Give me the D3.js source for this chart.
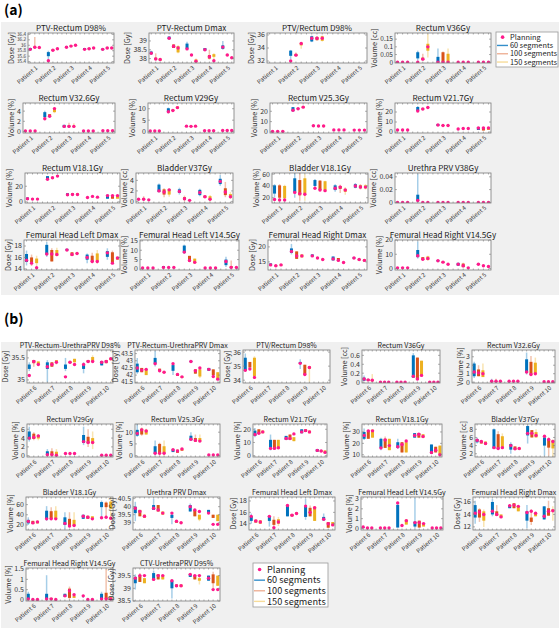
<!DOCTYPE html>
<html><head><meta charset="utf-8">
<script src="https://cdnjs.cloudflare.com/ajax/libs/d3/7.8.5/d3.min.js"></script>
<style>body{margin:0;background:#fff}svg{display:block}</style>
</head><body><svg id="c" width="560" height="631"></svg>
<script>
// ---------- data ----------
const seriesNames = ["60 segments", "100 segments", "150 segments"];
const seriesColors = ["#0072BD", "#D95319", "#EDB120"];
const planColor = "#FF1A8C";
const patientsA = ["Patient 1", "Patient 2", "Patient 3", "Patient 4", "Patient 5"];
const patientsB = ["Patient 6", "Patient 7", "Patient 8", "Patient 9", "Patient 10"];

// bar: number = all equal; [q1,q3,plan]; [wlo,q1,q3,whi,plan]; null = no data
const titlesA = ["PTV-Rectum D98%", "PTV-Rectum Dmax", "PTV/Rectum D98%", "Rectum V36Gy",
  "Rectum V32.6Gy", "Rectum V29Gy", "Rectum V25.3Gy", "Rectum V21.7Gy",
  "Rectum V18.1Gy", "Bladder V37Gy", "Bladder V18.1Gy", "Urethra PRV V38Gy",
  "Femural Head Left Dmax", "Femural Head Left V14.5Gy", "Femural Head Right Dmax", "Femural Head Right V14.5Gy"];
const ylabA = ["Dose [Gy]", "Dose [Gy]", "Dose [Gy]", "Volume [cc]", "Volume [%]", "Volume [%]", "Volume [%]", "Volume [%]",
  "Volume [%]", "Volume [cc]", "Volume [%]", "Volume [cc]", "Dose [Gy]", "Volume [%]", "Dose [Gy]", "Volume [%]"];
const domA = [[35.35, 36.45], [37.75, 39.45], [31.7, 36.3], [-0.005, 0.19], [-0.3, 5.6], [-0.6, 12.5], [-1, 28], [-1, 29],
  [-1.5, 37], [-0.3, 5.4], [11, 62], [-0.001, 0.046], [13.8, 19.05], [-0.6, 15.5], [12.3, 22.3], [-1, 20]];
const ticksA = [[35.4, 35.6, 35.8, 36, 36.2, 36.4], [38, 38.5, 39], [32, 34, 36], [0, 0.05, 0.1, 0.15],
  [0, 2, 4], [0, 5, 10], [0, 10, 20], [0, 10, 20], [0, 20], [0, 2, 4], [20, 40, 60], [0, 0.02, 0.04],
  [14, 16, 18], [0, 5, 10, 15], [15, 20], [0, 10, 20]];

const a01 = [[35.8,35.82,35.9,35.92,35.85],[35.88,35.9,35.95,36.3,35.93],[35.89,35.93,35.92],
  [35.45,35.6,35.75,35.8,35.43],[35.8,35.85,35.82],[35.85,35.89,35.87],
  [35.9,35.97,35.93],[35.95,35.99,35.97],[35.98,36.02,36.0],
  [35.83,35.9,35.85],[35.85,35.9,35.87],[35.88,35.92,35.9],
  [35.82,35.88,35.85],[35.88,35.92,35.9],[35.88,35.92,35.9]];
const a02 = [[38.2,38.25,38.4,38.45,38.3],[37.95,37.95,38.05,38.3,37.98],[37.88,38.0,37.95],
  [39.1,39.25,39.15],[38.6,38.8,38.7],[38.3,38.35,38.7,38.75,38.6],
  [38.5,38.55,38.85,38.95,38.55],[38.18,38.25,38.2],[37.78,37.8,37.95,38.0,37.85],
  [38.45,38.6,38.5],[37.95,38.0,38.2,38.5,38.1],[37.9,38.1,38.25,38.3,37.88],
  [38.5,38.55,38.75,39.0,38.65],[38.18,38.22,38.2],[38.03,38.08,38.05]];
const a03 = [null,null,null,
  [32.3,32.8,33.6,33.7,32.0],[32.7,32.8,33.1,33.3,32.9],[33.9,34.4,34.8,34.9,34.7],
  [34.9,35.0,35.8,35.9,35.5],[35.1,35.2,35.7,35.8,35.5],[35.0,35.1,35.8,35.9,35.5],
  null,null,null, null,null,null];
const a04 = [0,0,0,
  [0.01,0.025,0.065,0.075,0],[0.01,0.015,0.03,0.055,0.02],[0.03,0.075,0.12,0.185,0.1],
  [0,0,0.035,0.09,0],[0,0,0.065,0.07,0],[0,0,0.055,0.09,0],
  0,0,0, 0,0,0];
const a05 = [0.1,0.1,0.1,
  [2.5,2.8,3.8,4.1,2.5],[2.9,3.4,3.0],[3.6,3.8,4.6,4.8,4.5],
  [0.8,1.3,1.0],[0.8,0.9,1.2,1.7,1.0],[0.8,0.9,1.1,1.6,1.0],
  0.1,0.1,0.1, 0.15,0.15,0.15];
const a06 = [0.3,0.3,0.3,
  [8,8.5,10.2,10.5,8.7],[9,9.6,9.2],[10,11,10.5],
  [2.2,2.6,2.4],[2.1,2.5,2.3],[2.2,2.6,2.4],
  0.4,0.4,0.4, 0.5,0.5,0.5];
const a07 = [0.6,0.6,0.6,
  [20,24,21],[22,23,22.5],[23.5,25,24],
  [5.5,6.5,6],[5.3,6.3,5.8],[5.3,6.3,5.8],
  2,2,2, 1.8,1.8,1.8];
const a08 = [2,2,2,
  [20,21,25,26,21],[22.5,23.5,23],[24,25,24.5],
  [6,8,7],[6,7,6.5],[6,7,6.5],
  3,3.5,3.5,
  [2,5,4],[1.5,4.5,4],[2,4.5,4]];
const a09 = [[2.5,5.5,4],[3,4,3.5],[3,4,3.5],
  [29,33,29],[30,32,31],[32,34,33],
  [8,11,9],[9,11,9.5],[8.5,11,9.5],
  5.5,7,6,
  [4,9,8],[4,8.5,8],[4,8.5,8]];
const a10 = [0.4,[0.3,0.3,0.6,1.0,0.4],0.3,
  [1.7,1.8,3.2,3.4,2],[0.8,1.3,2.3,2.5,1.8],[0.9,1.3,2.3,2.5,2.2],
  [1.3,1.6,2.3,2.6,1.9],[0,0.3,0.8,1.1,0.5],0.2,
  [1.0,1.2,2.2,2.4,1.7],[0.7,1.1,0.9],[0,0.3,1.0,1.2,0.4],
  [3.0,3.3,4.3,5.0,3.8],[0.8,1.2,2.5,3.7,1.8],[0.5,0.7,1.4,1.8,0.9]];
const a11 = [[20,27,41,43,17],[15,20,41,43,16],[15,19,40,42,16],
  [20,29,53,62,29],[15,24,50,62,27],[15,27,53,60,26],
  [38,40,50,52,36],[32,33,49,50,33],[31,32,48,49,32],
  [30,33,41,43,36],[28,35,40,42,38],[25,30,35,38,33],
  [36,37,43,45,40],[34,36,41,43,38],[34,36,41,43,38]];
const a12 = [0,0,0,
  [0,0.002,0.012,0.045,0.003],0,0,
  0,0,0, 0,0,0, 0,0,0];
const a13 = [[14.6,15.2,16.6,17.2,15.5],[14.5,15.1,16.0,16.5,15.0],[14.5,15.0,15.8,16.3,14.2],
  [16.1,16.5,18.2,18.7,16.6],[15.3,15.3,17.3,17.6,16.6],[16.2,16.3,17.3,17.7,16.5],
  [17.2,17.5,17.3],[16.3,16.9,16.5],[16.6,16.8,16.7],
  [15,15.6,16.5,16.7,16.0],[15,15.2,16.3,16.8,15.3],[14.9,15.3,16.7,17.3,15.3],
  [15.6,16.1,17.1,17.6,16.8],[14.9,14.9,16.9,17.2,15.0],[15.6,16.1,15.9]];
const a14 = [0.5,0.5,0.5,
  [0.8,1.5,0.8],0.8,0.8,
  [8,8.5,12.5,13,9],[4,7,4.5],[3,5.5,3.5],
  0.5,0.5,0.5,
  [1,2,5,6.5,4],[0.5,0.5,1.5,4.5,0.8],[0.5,0.8,0.8]];
const a15 = [[13.8,14.5,14],[13.5,13.9,13.7],[13.8,14.2,14],
  [17.5,18,19.5,21,18.5],[16,18.5,17],[16.5,17.5,17],
  [16.8,17.5,17],[16.2,16.6,16.3],[15.6,16,15.8],
  [15.5,16.8,16],[15.3,16.3,15.5],[14.6,15,14.8],
  [16.1,16.5,16.3],[15.5,16,15.8],[15.2,15.9,15.5]];
const a16 = [0.5,0.5,0.5,
  [7,8,13,19,9],[6,8,6.5],[5.5,6,8.5,9,7],
  [5,6,5.5],[4,5,4.5],3,
  [2,4,3],[1,1,3.5,4,2],0.5,
  [2.5,3.5,3],2,1.5];
const dataA = [a01,a02,a03,a04,a05,a06,a07,a08,a09,a10,a11,a12,a13,a14,a15,a16];

const titlesB = ["PTV-Rectum-UrethraPRV D98%", "PTV-Rectum-UrethraPRV Dmax", "PTV/Rectum D98%", "Rectum V36Gy", "Rectum V32.6Gy",
  "Rectum V29Gy", "Rectum V25.3Gy", "Rectum V21.7Gy", "Rectum V18.1Gy", "Bladder V37Gy",
  "Bladder V18.1Gy", "Urethra PRV Dmax", "Femural Head Left Dmax", "Femural Head Left V14.5Gy", "Femural Head Right Dmax",
  "Femural Head Right V14.5Gy", "CTV-UrethraPRV D95%"];
const ylabB = ["Dose [Gy]", "Dose [Gy]", "Dose [Gy]", "Volume [cc]", "Volume [%]",
  "Volume [%]", "Volume [%]", "Volume [%]", "Volume [%]", "Volume [cc]",
  "Volume [%]", "Dose [Gy]", "Dose [Gy]", "Volume [%]", "Dose [Gy]", "Volume [%]", "Dose [Gy]"];
const domB = [[34.93, 35.68], [41.45, 43.75], [33.8, 36.15], [-0.02, 0.72], [-0.1, 3.8],
  [-0.3, 7.2], [-0.6, 13.5], [-1, 24], [8, 37], [1.2, 9.3],
  [10, 75], [38.55, 40.6], [12.9, 18.7], [-0.15, 3.2], [11.5, 16.8], [-0.05, 1.55], [38.5, 39.8]];
const ticksB = [[35, 35.5], [41.5, 42, 42.5, 43, 43.5], [34, 35, 36], [0, 0.2, 0.4, 0.6], [0, 1, 2, 3],
  [0, 2, 4, 6], [0, 5, 10], [0, 10, 20], [10, 20, 30], [2, 4, 6, 8],
  [20, 40, 60], [39, 39.5, 40, 40.5], [14, 16, 18], [0, 1, 2, 3], [12, 14, 16], [0, 0.5, 1, 1.5], [38.5, 39, 39.5]];

const b01 = [[35.2,35.25,35.35,35.4,35.1],[35.3,35.38,35.45,35.45,35.42],[35.35,35.42,35.35],
  [34.95,35.25,35.4,35.45,35.3],[35.3,35.4,35.35],[35.35,35.4,35.45,35.45,35.4],
  [35.2,35.25,35.35,35.5,35.07],[35.38,35.42,35.4],[35.4,35.48,35.35],
  [35.15,35.25,35.35,35.4,35.35],[35.4,35.45,35.42],[35.4,35.42,35.52,35.56,35.42],
  [35.33,35.43,35.4],[35.38,35.45,35.42],[35.45,35.5,35.48]];
const b02 = [[42.1,42.2,42.8,43.2,42.5],[42.2,42.5,42.35],[42.0,42.4,42.4],
  [42.6,42.8,43.2,43.7,42.8],[42.3,42.45,42.3],[42.15,42.25,42.2],
  [42.0,42.3,42.7,42.85,42.8],[41.95,42.1,42.05],[41.8,41.9,41.88],
  [42.9,43.0,42.95],[42.1,42.4,42.3],[41.8,41.9,42.4,42.5,42.5],
  [42.3,42.5,42.4],[42.0,42.4,41.9],[41.7,42.2,41.72]];
const b03 = [[34.6,34.7,35.6,35.9,34.7],[34.9,35.3,34.8],[34.2,34.3,35.6,35.7,34.2],
  null,null,null, null,null,null,
  [34.8,35.2,35.3,35.5,35.2],[34.4,35.1,34.4],[33.9,34.8,35.0,35.0,34.9],
  null,null,null];
const b04 = [[0.03,0.03,0.1,0.15,0.07],[0.03,0.07,0.05],[0.02,0.02,0.06,0.18,0.04],
  0,0,0, 0,0,0,
  [0.1,0.1,0.6,0.65,0.13],[0.05,0.55,0.07],[0.15,0.48,0.15],
  0,0,0];
const b05 = [[0.5,0.7,2.2,2.4,1.2],[0.7,0.7,1.5,2.0,1.1],[0.6,0.6,1.4,2.2,1.0],
  [0,0.05,0.2,0.4,0.1],[0,0.05,0.15,0.4,0.1],0.1,
  0.1,0.1,0.1,
  [0.9,1.1,2.7,3.5,1.2],[0.9,0.9,2.4,3.1,0.9],[1.0,1.0,2.3,2.9,1.0],
  0.05,0.05,0.05];
const b06 = [[3.2,3.7,5.5,6.6,4.0],[3.5,3.8,5.0,5.3,4.2],[3.5,3.9,4.7,4.9,4.5],
  [0,0.2,1.0,1.5,0.2],[0,0.1,1.0,1.7,0.2],[0,0.2,0.9,1.5,0.1],
  0.5,0.5,0.5,
  [2.4,2.9,4.7,6.6,3.2],[2.0,2.8,4.3,6.0,3.0],[1.5,2.8,4.0,5.5,3.0],
  0.1,0.1,0.1];
const b07 = [[8,8.5,11,13.5,9.5],[8.5,9,11.5,12,11],[9,9,11,11.5,10.5],
  [0,1,4,6.5,1],[0,1,5,5.5,1],[0,1,4,6.5,1],
  [1.5,2.7,2.5],[1.2,2.5,2.0],[2,3,2.8],
  [6.5,6.5,8.5,10,7],[6,6,7.5,9,6.5],[6,6,7.5,9,6.2],
  0.3,0.3,0.3];
const b08 = [[14,15,19,21,16],[17,20,17],[17,19,18],
  [4,6,12,16,5.5],[5,12,5.5],[5,12,6],
  [12,15,13],[12,16,13],[11,14,16.5],
  [17,20,18],[18,20,19],[17,19,18],
  [3,5,4],[3,4,3.5],[2,4,2.5]];
const b09 = [[23,24,30,33,27],[24,31,31],[25,32,31],
  [14,16,24,25,16],[16,16,24,26,23],[14,24,18],
  [15,16,21,24,17],[12,21,19],[12,21,22],
  [25,29,27],[25,29,28],[25,28,26],
  [11,19,12],[12,17,14],[10,18,10]];
const b10 = [[4.5,4.8,5.6,6,5.3],[4.5,5.2,5.0],[4.2,5,4.5],
  [3.3,3.3,8.0,8.2,3.5],[3.2,3.2,6.8,7.5,3.3],[3.5,3.5,6.3,7.0,3.5],
  [2,3,4.4,4.8,4],[3,3.8,3.2],[3,3.5,3.3],
  [4.5,6.5,8.8,9,7],[6,7.8,7.0],[6,6,7.3,8,6.5],
  [1.5,4,6,6.5,6.3],[1.5,3.5,5.5,6,5.5],[1.2,3.3,5.3,5.5,5.0]];
const b11 = [[20,23,30,35,27],[22,28,24],[23,28,26],
  [28,32,48,57,32],[32,32,47,55,32],[32,32,48,57,32],
  [12,20,35,45,23],[15,18,32,45,18],[18,18,30,45,19],
  [32,40,37],[32,38,35],[32,37,32],
  [35,55,65,68,34],[35,55,64,66,35],[33,52,66,75,33]];
const b12 = [[39.1,39.6,40.0,40.3,39.9],[39.4,39.8,39.7],[39.3,39.5,39.4],
  [39.8,39.8,40.1,40.5,39.9],[39.7,40.1,39.8],[39.5,39.7,39.6],
  [38.9,39.3,39.5,39.6,39.6],[39.0,39.1,39.1],[38.97,39.03,39.0],
  [39.7,39.7,40.1,40.2,40.0],[39.4,39.8,39.8],[39.1,39.2,39.5,39.5,39.7],
  [39.6,39.8,39.6],[39.3,39.5,38.9],[39.1,39.5,38.9]];
const b13 = [[14,14.5,15.3,15.8,15.3],[14.2,14.7,14.5],[14,14.6,14.3],
  [13.5,14.5,15.3,15.5,15.3],[13.5,13.8,14.7,15.3,13.3],[13.6,14,14.8,15.2,14.3],
  [15.3,17.2,17.2],[15.3,15.7,15.5],[15.7,16,15.8],
  [14.7,15.2,17,18.4,17.1],[15.3,15.3,16.8,17.2,16],[14.5,17,16.8],
  [14.6,14.6,15.2,15.8,14.8],[13.3,14.3,14],[13.7,14.3,13.8]];
const b14 = [[0.05,0.15,0.15],0.05,0.05,
  0.05,0.05,0.05,
  [0.1,0.1,2.4,2.7,2.6],0.3,[0.4,0.9,0.8],
  [0,0.2,0.7,3.1,0.6],[0.1,0.8,0.6],[0.2,0.5,0.5],
  0.05,0.05,0.05];
const b15 = [[12.5,13.5,15.5,16.2,14.2],[12.8,13.5,14.8,15,14.4],[12,13,14.5,14.8,14.0],
  [13.7,14,16,16.5,14.5],[13.8,13.8,14.5,15.5,14.0],[13.5,14,13.6],
  [15,15.5,15.4],[15,15.8,15.5],[14.5,15.3,15.3],
  [11.8,13,14.5,15.5,14.3],[12.3,12.8,13.5,14.8,14.5],[13.7,14.2,14.2],
  [13.2,15.3,13.7],[13.8,13.8,15.0,16.2,14.5],[13,14.5,14.8,15.3,14.6]];
const b16 = [[0,0.05,0.3,0.4,0.05],0.02,0.02,
  [0,0.05,0.3,1.2,0.05],[0.02,0.1,0.05],0.02,
  [0.15,0.3,0.2],[0,0.1,0.55,0.65,0.45],[0.1,0.2,0.25],
  [0.1,0.2,0.2,0.25,0.2],0.02,0.02,
  [0,0.05,0.3,0.4,0.05],[0,0.05,0.35,1.5,0.05],[0,0,0.15,0.15,0.05]];
const b17 = [[38.95,39.2,39.45,39.55,39.4],[39.25,39.25,39.5,39.6,39.5],[39.2,39.4,39.5],
  [39.3,39.35,39.6,39.7,39.35],[39.35,39.55,39.5],[39.35,39.5,39.5],
  [38.6,39.0,39.3,39.35,39.3],[39.05,39.15,39.1],[39.05,39.15,39.1],
  [39.45,39.55,39.55],[39.35,39.5,39.5],[39.15,39.3,39.4,39.55,39.5],
  [39.3,39.5,39.4],[39.0,39.2,39.55,39.65,38.95],[39.1,39.5,38.95]];
const dataB = [b01,b02,b03,b04,b05,b06,b07,b08,b09,b10,b11,b12,b13,b14,b15,b16,b17];

// ---------- layout ----------
const framesA = [[28,114],[149,234],[267,367],[395,491],
  [23,115],[148,234],[270,367],[395,491],
  [25,120],[136,233],[272,368],[395,491],
  [24,120],[140,239],[268,367],[395,491]];
const topsA = [33,103,173,240], hA = 30;
const framesB = [[27,113],[135,220],[243,330],[362,440],[472,555],
  [27,113],[135,220],[253,327],[362,442],[475,555],
  [26,113],[133,220],[249,335],[361,443],[473,555],
  [26,113],[133,220]];
const topsB = [350,424,497,568], hB = 33;

const FONT = "'Noto Sans CJK JP','Noto Sans',sans-serif";
const svg = d3.select("#c");
const defs = svg.append("defs");

svg.append("rect").attr("x",1).attr("y",22).attr("width",558).attr("height",273).attr("fill","#f0f0f0");
svg.append("rect").attr("x",1).attr("y",342).attr("width",558).attr("height",286).attr("fill","#f0f0f0");
svg.append("text").attr("x",4).attr("y",15).attr("font-family",FONT).attr("font-weight","bold").attr("font-size",14).text("(a)");
svg.append("text").attr("x",4).attr("y",324).attr("font-family",FONT).attr("font-weight","bold").attr("font-size",14).text("(b)");

function norm(d) {
  if (d === null || d === undefined) return null;
  if (typeof d === "number") return [d,d,d,d,d];
  if (d.length === 3) return [d[0],d[0],d[1],d[1],d[2]];
  return d;
}

let clipId = 0;
function drawPanel(fr, top, h, title, ylab, dom, ticks, data, pats, titleFs) {
  const x0 = fr[0], x1 = fr[1], y0 = top, y1 = top + h;
  const x = d3.scaleLinear().domain([0.5, 19.5]).range([x0, x1]);
  const y = d3.scaleLinear().domain(dom).range([y1, y0]);
  const g = svg.append("g");
  g.append("rect").attr("x",x0).attr("y",y0).attr("width",x1-x0).attr("height",h).attr("fill","#fff");
  const id = "cp" + (clipId++);
  defs.append("clipPath").attr("id",id).append("rect").attr("x",x0).attr("y",y0).attr("width",x1-x0).attr("height",h);
  const pg = g.append("g").attr("clip-path","url(#"+id+")");
  data.forEach((raw, i) => {
    const d = norm(raw);
    if (!d) return;
    const p = Math.floor(i / 3), s = i % 3;
    const cx = x(p * 4 + s + 1);
    const col = seriesColors[s];
    pg.append("line").attr("x1",cx).attr("x2",cx).attr("y1",y(d[0])).attr("y2",y(d[3]))
      .attr("stroke",col).attr("stroke-opacity",0.35).attr("stroke-width",1.5);
    const yt = y(d[2]), yb = y(d[1]);
    pg.append("rect").attr("x",cx-1.5).attr("width",3).attr("y",yt).attr("height",Math.max(0, yb-yt))
      .attr("fill",col);
    pg.append("circle").attr("cx",cx).attr("cy",y(d[4])).attr("r",1.7).attr("fill",planColor);
  });
  g.append("rect").attr("x",x0).attr("y",y0).attr("width",x1-x0).attr("height",h)
    .attr("fill","none").attr("stroke","#7a7a7a").attr("stroke-width",0.8);
  d3.range(1, 20).forEach(v => {
    g.append("line").attr("x1",x(v)).attr("x2",x(v)).attr("y1",y1).attr("y2",y1-1.5).attr("stroke","#7a7a7a").attr("stroke-width",0.6);
    g.append("line").attr("x1",x(v)).attr("x2",x(v)).attr("y1",y0).attr("y2",y0+1.5).attr("stroke","#7a7a7a").attr("stroke-width",0.6);
  });
  const spacing = Math.abs(y(ticks[0]) - y(ticks[1]));
  const tfs = Math.min(7, spacing * 0.85);
  const tg = g.append("g");
  ticks.forEach(t => {
    g.append("line").attr("x1",x0).attr("x2",x0+2).attr("y1",y(t)).attr("y2",y(t)).attr("stroke","#7a7a7a").attr("stroke-width",0.6);
    g.append("line").attr("x1",x1).attr("x2",x1-2).attr("y1",y(t)).attr("y2",y(t)).attr("stroke","#7a7a7a").attr("stroke-width",0.6);
    tg.append("text").attr("x",x0-2).attr("y",y(t)).attr("dy","0.35em").attr("text-anchor","end")
      .attr("font-family",FONT).attr("font-size",tfs).attr("fill","#333").text(String(t));
  });
  const bb = tg.node().getBBox();
  g.append("text").attr("transform","translate(" + (bb.x - 3) + "," + ((y0+y1)/2) + ") rotate(-90)")
    .attr("text-anchor","middle").attr("font-family",FONT).attr("font-size",7.2).attr("fill","#333").text(ylab);
  pats.forEach((pn, p) => {
    const cx = x(p * 4 + 2);
    g.append("text").attr("transform","translate(" + (cx + 2) + "," + (y1 + 4) + ") rotate(-40)")
      .attr("text-anchor","end").attr("dy","0.35em").attr("font-family",FONT).attr("font-size",6).attr("fill","#333").text(pn);
  });
  g.append("text").attr("x",(x0+x1)/2).attr("y",y0-2.5).attr("text-anchor","middle")
    .attr("font-family",FONT).attr("font-size",titleFs).attr("fill","#222").text(title);
}

dataA.forEach((d, i) => {
  drawPanel(framesA[i], topsA[Math.floor(i/4)], hA, titlesA[i], ylabA[i], domA[i], ticksA[i], d, patientsA, 8.1);
});
dataB.forEach((d, i) => {
  drawPanel(framesB[i], topsB[Math.floor(i/5)], hB, titlesB[i], ylabB[i], domB[i], ticksB[i], d, patientsB, 7.0);
});

function legend(lx, ly, w, h, fs, rowH, lineLen) {
  const g = svg.append("g");
  g.append("rect").attr("x",lx).attr("y",ly).attr("width",w).attr("height",h).attr("fill","#fff").attr("stroke","#9a9a9a").attr("stroke-width",0.8);
  const tx = lx + lineLen + 2;
  const r0 = ly + rowH * 0.62;
  g.append("circle").attr("cx",lx + lineLen*0.55).attr("cy",r0).attr("r",1.8).attr("fill",planColor);
  g.append("text").attr("x",tx).attr("y",r0).attr("dy","0.35em").attr("font-family",FONT).attr("font-size",fs).attr("fill","#222").text("Planning");
  seriesNames.forEach((n, i) => {
    const yy = r0 + rowH * (i + 1);
    g.append("line").attr("x1",lx+1).attr("x2",lx+lineLen).attr("y1",yy).attr("y2",yy)
      .attr("stroke",seriesColors[i]).attr("stroke-opacity", i === 0 ? 0.8 : 0.45).attr("stroke-width",1.4);
    g.append("text").attr("x",tx).attr("y",yy).attr("dy","0.35em").attr("font-family",FONT).attr("font-size",fs).attr("fill","#222").text(n);
  });
}
legend(496, 32, 62, 35, 7.4, 8.3, 12);
legend(253, 563, 75, 44, 9.2, 10.6, 12);
</script></body></html>
